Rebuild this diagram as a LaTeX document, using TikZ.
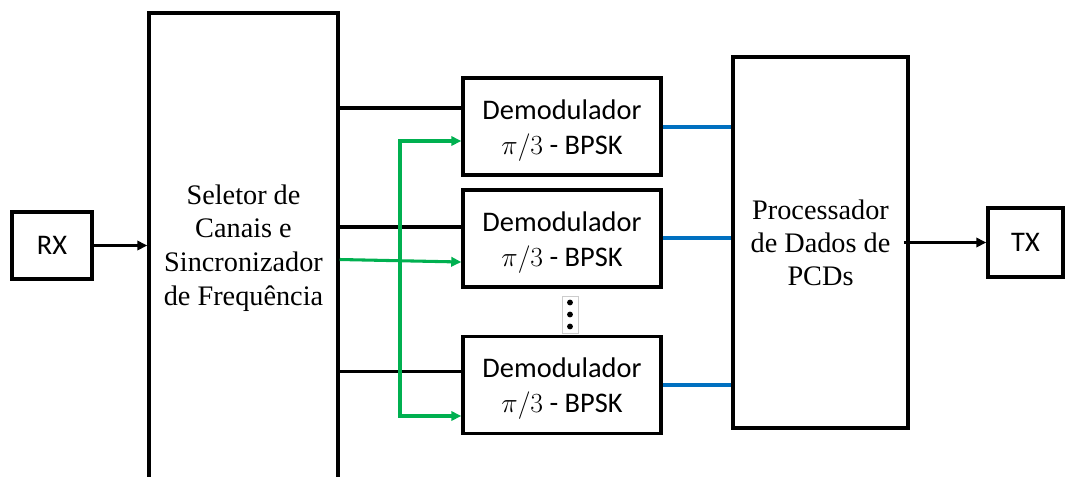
\documentclass[tikz,border=0pt]{standalone}
\usepackage{fontspec}
\setmainfont{Liberation Serif}
\newfontfamily\calfont{Carlito}
\usetikzlibrary{arrows.meta}
\definecolor{offgreen}{RGB}{0,176,80}
\definecolor{offblue}{RGB}{0,112,192}
\newcommand{\demodtext}{\rule{0pt}{20.5pt}Demodulador\\$\pi/3$ - BPSK}
\begin{document}
\begin{tikzpicture}[x=0.75pt,y=-0.75pt,
  box/.style={draw=black,line width=2.6pt,rectangle,inner sep=0pt,align=center},
  sfbox/.style={box,font=\calfont\fontsize{21.3}{26}\selectfont},
  rmbox/.style={box,font=\fontsize{21.2}{25.3}\selectfont},
  conn/.style={line width=2.5pt},
  tip/.style={-{Triangle[length=7.5pt,width=7pt]}},
  gline/.style={line width=2.3pt,draw=offgreen},
  bline/.style={line width=2.4pt,draw=offblue}]
\useasboundingbox (0,0) rectangle (1069,476);
% nodes
\node[sfbox,minimum width=60pt,minimum height=50.25pt] (rx) at (52,245.5) {RX};
\node[rmbox,minimum width=141.75pt,minimum height=352.5pt] (sel) at (243.5,248) {Seletor de\\Canais e\\Sincronizador\\de Frequência};
\node[sfbox,minimum width=148.5pt,minimum height=72.75pt] (d1) at (562,126.5) {\demodtext};
\node[sfbox,minimum width=148.5pt,minimum height=72.75pt] (d2) at (562,238.5) {\demodtext};
\node[sfbox,minimum width=148.5pt,minimum height=72.75pt] (d3) at (562,385) {\demodtext};
\node[draw=black!20,line width=0.6pt,minimum width=12pt,minimum height=27.75pt,inner sep=0pt] (dots) at (570,314.5) {};
\fill ([yshift=9pt]dots.center) circle (2.2pt);
\fill (dots.center) circle (2.2pt);
\fill ([yshift=-9pt]dots.center) circle (2.2pt);
\node[box,font=\fontsize{21.2}{24.75}\selectfont,minimum width=131.25pt,minimum height=278.25pt] (proc) at (820.5,242.5) {Processador\\de Dados de\\PCDs};
\node[sfbox,minimum width=56.25pt,minimum height=51.75pt] (tx) at (1025.5,242.5) {TX};
% helper coordinates
\coordinate (k1) at (0,108);
\coordinate (k2) at (0,227);
\coordinate (k3) at (0,371.5);
\coordinate (g1) at (0,141);
\coordinate (g2s) at (0,259.5);
\coordinate (g2e) at (0,262);
\coordinate (gc) at (400,416);
\coordinate (b1) at (0,127);
\coordinate (b2) at (0,238);
\coordinate (b3) at (0,385);
% connectors
\draw[conn,tip] (rx.east) -- (sel.west |- rx.east);
\draw[conn] (sel.east |- k1) -- (d1.west |- k1);
\draw[conn] (sel.east |- k2) -- (d2.west |- k2);
\draw[conn] (sel.east |- k3) -- (d3.west |- k3);
\draw[gline,{Triangle[length=7.5pt,width=7pt]}-{Triangle[length=7.5pt,width=7pt]}] (d1.west |- g1) -| (gc) -- (d3.west |- gc);
\draw[gline,tip] (sel.east |- g2s) -- (d2.west |- g2e);
\draw[bline] (d1.east |- b1) -- (proc.west |- b1);
\draw[bline] (d2.east |- b2) -- (proc.west |- b2);
\draw[bline] (d3.east |- b3) -- (proc.west |- b3);
\draw[conn,tip] ([xshift=-4.5pt]proc.east |- tx.west) -- (tx.west);
\end{tikzpicture}
\end{document}
